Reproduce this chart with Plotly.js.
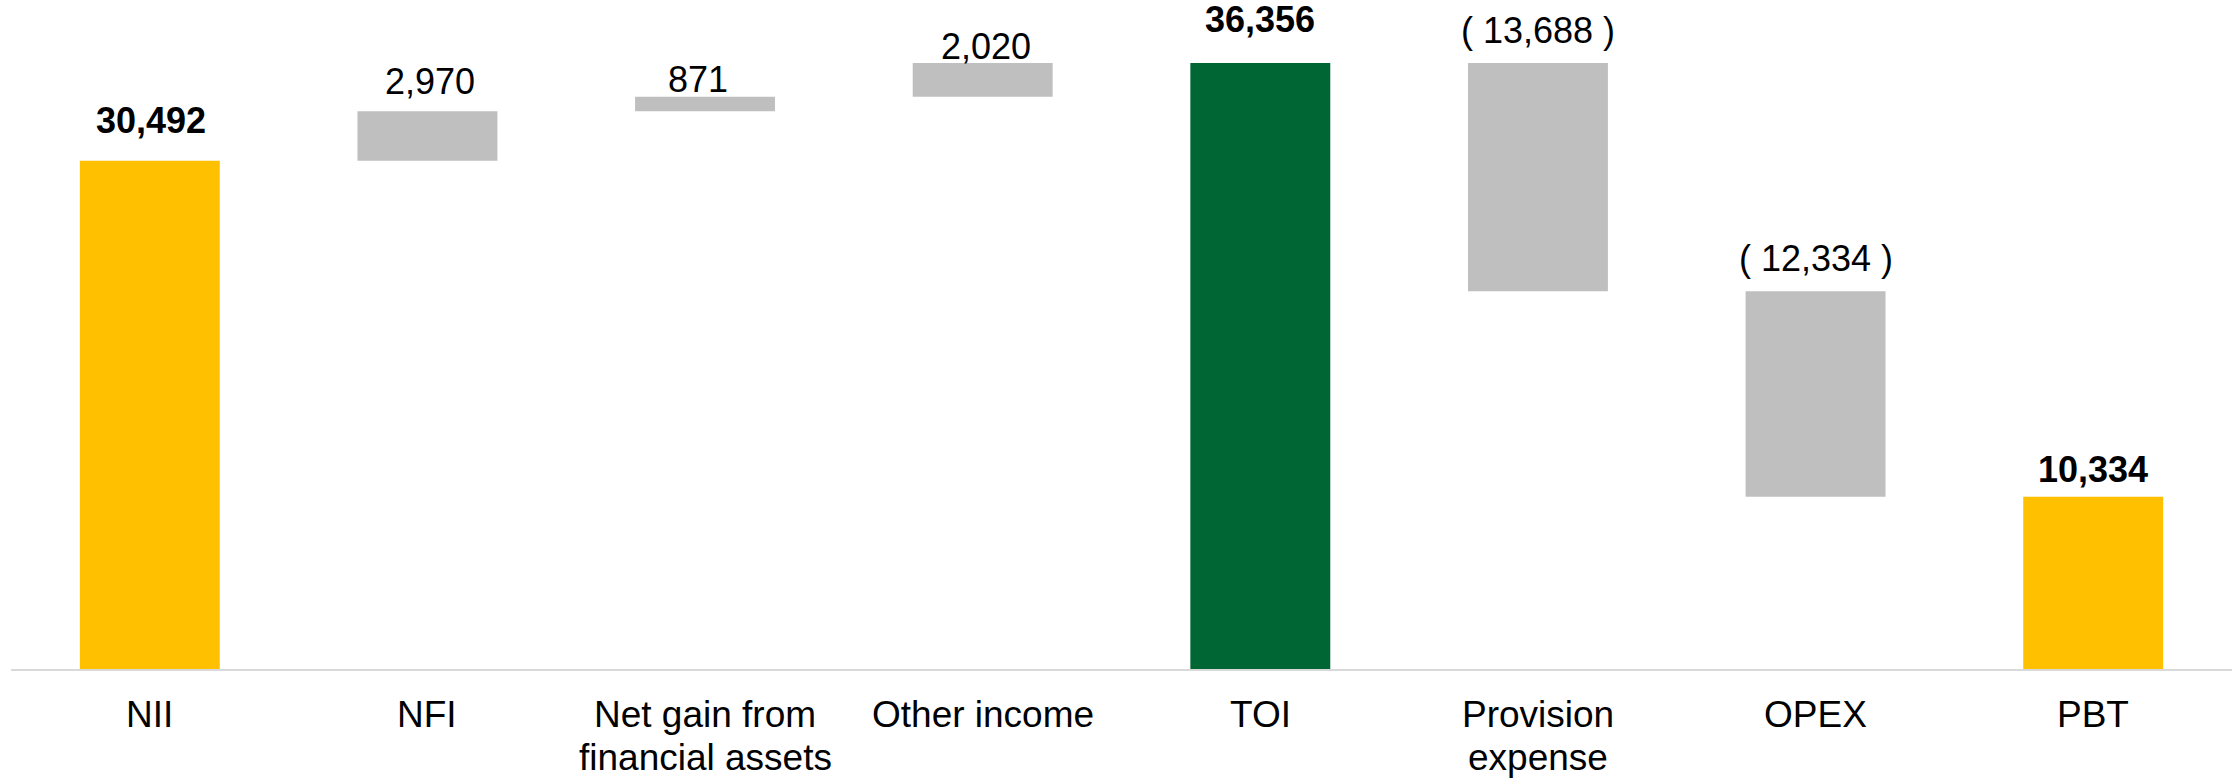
<!DOCTYPE html>
<html>
<head>
<meta charset="utf-8">
<script src="https://cdn.plot.ly/plotly-3.0.1.min.js"></script>
<style>html,body{margin:0;padding:0;background:#fff;}#chart{width:2238px;height:778px;}</style>
</head>
<body>
<div id="chart"></div>
<script>
// ---- data ----
const categories = ["NII", "NFI", "Net gain from financial assets", "Other income", "TOI", "Provision expense", "OPEX", "PBT"];
const tickLabels = ["NII", "NFI", "Net gain from<br>financial assets", "Other income", "TOI", "Provision<br>expense", "OPEX", "PBT"];
const values = [30492, 2970, 871, 2020, 36356, -13688, -12334, 10334];
const measures = ["absolute", "relative", "relative", "relative", "total", "relative", "relative", "total"];

// ---- styles ----
const barColors = ["#FFC000", "#BFBFBF", "#BFBFBF", "#BFBFBF", "#006633", "#BFBFBF", "#BFBFBF", "#FFC000"];
const labelGap = [26.5, 15.5, 3.5, 2.5, 29.5, 19, 18.5, 13]; // px between label baseline and bar top
const labelXShift = [1, 3, -7, 3, 0, 0, 0, 0];
const FONT = "Arial, 'Liberation Sans', sans-serif";
const FS = 36;
const CAT_FS = 37;

// compute waterfall bases / heights
let running = 0;
const bases = [], heights = [], tops = [];
values.forEach((v, i) => {
  const m = measures[i];
  if (m === "absolute" || m === "total") {
    bases.push(0); heights.push(v); running = v;
  } else if (v >= 0) {
    bases.push(running); heights.push(v); running += v;
  } else {
    bases.push(running + v); heights.push(-v); running += v;
  }
  tops.push(bases[i] + heights[i]);
});

const fmt = n => Math.abs(n).toLocaleString("en-US");
const labelText = values.map((v, i) => {
  if (measures[i] !== "relative") return "<b>" + fmt(v) + "</b>";
  return v < 0 ? "( " + fmt(v) + " )" : fmt(v);
});

const trace = {
  type: "bar",
  x: categories,
  y: heights,
  base: bases,
  marker: { color: barColors, line: { width: 0 } },
  hoverinfo: "skip"
};

const DESC = 0.212 * FS + 1;
const annotations = [];
categories.forEach((c, i) => {
  annotations.push({
    x: c, y: tops[i], xref: "x", yref: "y",
    text: labelText[i], showarrow: false,
    xanchor: "center", yanchor: "bottom",
    yshift: labelGap[i] - DESC, xshift: labelXShift[i],
    font: { family: FONT, size: FS, color: "#000000" }
  });
  const lines = tickLabels[i].split("<br>");
  lines.forEach((ln, j) => {
    annotations.push({
      x: c, y: 0, xref: "x", yref: "paper",
      text: ln, showarrow: false, borderpad: 0,
      xanchor: "center", yanchor: "top",
      yshift: -23.5 - j * 43,
      font: { family: FONT, size: CAT_FS, color: "#000000" }
    });
  });
});

const layout = {
  width: 2238, height: 778,
  margin: { l: 11, r: 6, t: 0, b: 109, pad: 0 },
  paper_bgcolor: "#ffffff", plot_bgcolor: "#ffffff",
  bargap: 0.496,
  showlegend: false,
  xaxis: {
    type: "category",
    categoryorder: "array", categoryarray: categories,
    showticklabels: false, ticks: "",
    showgrid: false, zeroline: false,
    showline: true, linecolor: "#D9D9D9", linewidth: 1.5,
    fixedrange: true
  },
  yaxis: {
    range: [0, 40140],
    visible: false, showgrid: false, zeroline: false,
    fixedrange: true
  },
  annotations: annotations,
  font: { family: FONT, size: FS, color: "#000" }
};

Plotly.newPlot("chart", [trace], layout, { staticPlot: true, displayModeBar: false });
</script>
</body>
</html>
